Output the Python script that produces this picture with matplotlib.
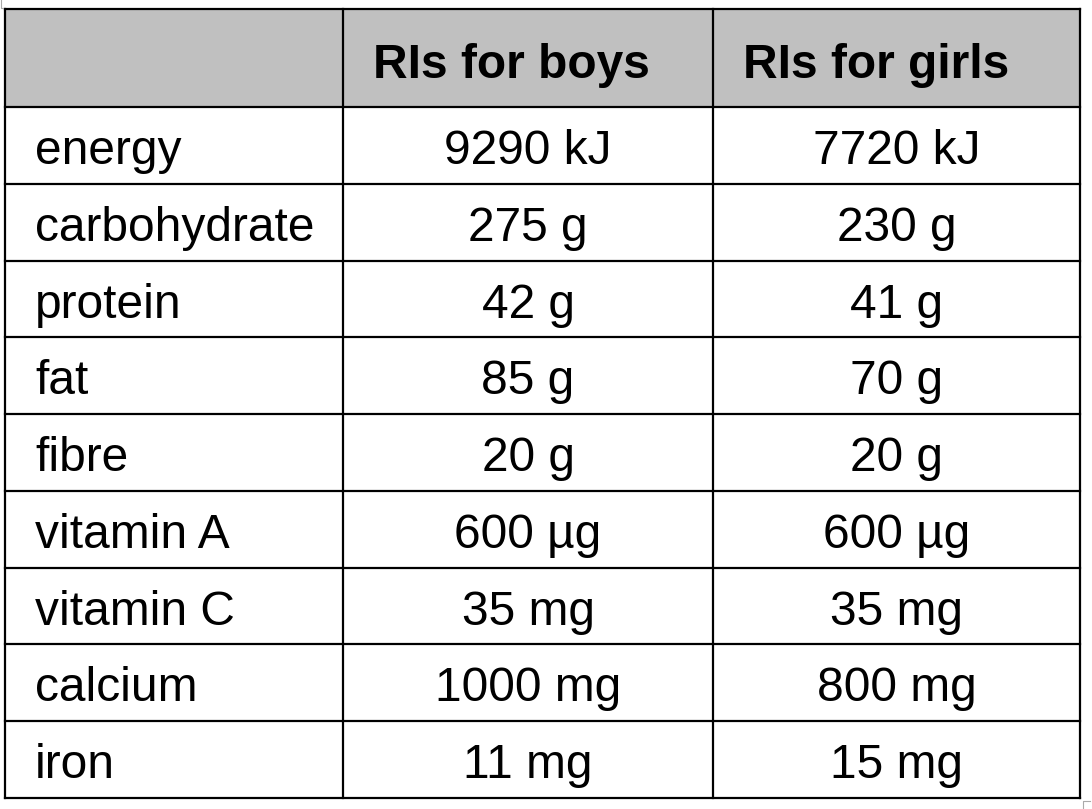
import matplotlib.pyplot as plt
from matplotlib.patches import Rectangle

# table contents
headers = ["", "RIs for boys", "RIs for girls"]
nutrients = ["energy", "carbohydrate", "protein", "fat", "fibre",
             "vitamin A", "vitamin C", "calcium", "iron"]
boys = ["9290 kJ", "275 g", "42 g", "85 g", "20 g",
        "600 µg", "35 mg", "1000 mg", "11 mg"]
girls = ["7720 kJ", "230 g", "41 g", "70 g", "20 g",
         "600 µg", "35 mg", "800 mg", "15 mg"]

plt.rcParams['font.family'] = ['Liberation Sans', 'DejaVu Sans']

W, H = 1092, 809
fig = plt.figure(figsize=(W / 100, H / 100), dpi=100)
ax = fig.add_axes([0, 0, 1, 1])
ax.set_xlim(0, W)
ax.set_ylim(H, 0)
ax.axis('off')

# layout in pixels
left, right = 5, 1080
top, head_bot, bottom = 9, 107, 798
col_x = [left, 343, 713, right]
n = len(nutrients)
row_h = (bottom - head_bot) / n
row_y = [head_bot + i * row_h for i in range(n + 1)]
pad = 30

# header background
ax.add_patch(Rectangle((left, top), right - left, head_bot - top,
                       facecolor='#c0c0c0', edgecolor='none'))

lw = 1.6
for x in col_x:
    ax.plot([x, x], [top, bottom], color='black', lw=lw, solid_capstyle='projecting')
for y in [top] + row_y:
    ax.plot([left, right], [y, y], color='black', lw=lw, solid_capstyle='projecting')

fs = 34.5
# header text, left aligned in each column
for j in (1, 2):
    ax.text(col_x[j] + pad, top + 69, headers[j], ha='left', va='baseline',
            fontsize=fs, fontweight='bold')

# body text
for i in range(n):
    by = row_y[i] + 57
    ax.text(left + pad, by, nutrients[i], ha='left', va='baseline', fontsize=fs)
    ax.text((col_x[1] + col_x[2]) / 2, by, boys[i], ha='center', va='baseline', fontsize=fs)
    ax.text((col_x[2] + col_x[3]) / 2, by, girls[i], ha='center', va='baseline', fontsize=fs)

# little corner marks
ax.plot([0.5, 0.5, 3], [0, 8, 8], color='#aaaaaa', lw=0.8)
ax.plot([1083, 1083, 1090], [809, 801, 801], color='#aaaaaa', lw=0.8)

fig.savefig('out.png', dpi=100)
